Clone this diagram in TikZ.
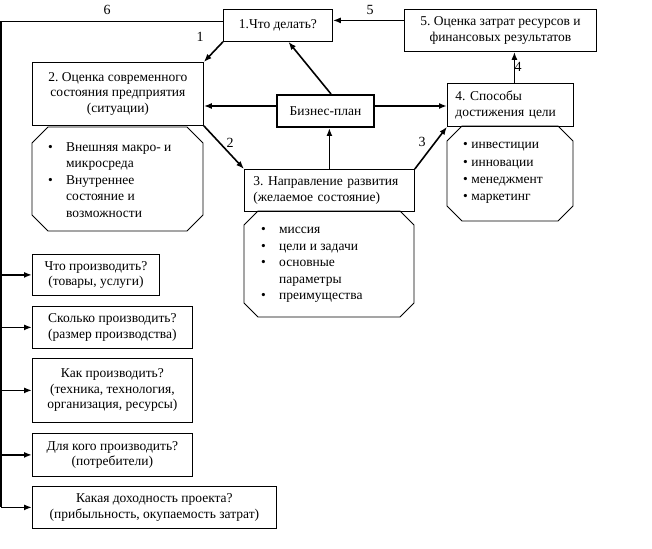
\documentclass[tikz,border=0pt]{standalone}
\usepackage{fontspec}
\setmainfont{Liberation Serif}
\usetikzlibrary{arrows.meta}
\newcommand\dfont{\fontsize{13.5}{15.5}\selectfont\frenchspacing}
\newcommand\ofont{\fontsize{13.5}{16.5}\selectfont\frenchspacing}
\newcommand\bl[1]{\mbox{\makebox[18pt][l]{•}#1}}
\newcommand\cl[1]{\mbox{\hspace*{18pt}#1}}
\newcommand\octpath[5]{\draw[line width=0.8pt] (#1+#5,#2) -- (#3-#5,#2) -- (#3,#2+#5) -- (#3,#4-#5) -- (#3-#5,#4) -- (#1+#5,#4) -- (#1,#4-#5) -- (#1,#2+#5) -- cycle;}
\begin{document}
\begin{tikzpicture}[x=1pt,y=-1pt,
  box/.style={draw,line width=0.8pt,inner sep=0pt,anchor=north west,font=\dfont,align=center},
  otext/.style={inner sep=0pt,anchor=west,font=\ofont,align=left},
  arr/.style={line width=1.6pt,-{Latex[length=8pt,width=6pt]}},
  lbl/.style={font=\fontsize{14}{16}\selectfont,inner sep=0pt}]
\useasboundingbox (0,0) rectangle (652,548);
% boxes
\node[box,minimum width=109pt,minimum height=32pt] (b1) at (223,9) {1.Что делать?};
\node[box,minimum width=192pt,minimum height=42pt] (b5) at (404,9) {5. Оценка затрат ресурсов и\\финансовых результатов};
\node[box,minimum width=171pt,minimum height=63pt] (b2) at (32,62) {2. Оценка современного\\состояния предприятия\\(ситуации)};
\node[box,line width=2pt,minimum width=97pt,minimum height=32pt] (biz) at (276,94) {Бизнес-план};
\node[box,minimum width=126pt,minimum height=43pt,align=left,text width=110pt,inner xsep=8pt] (b4) at (447,83) {4. Способы\\достижения цели};
\node[box,minimum width=170pt,minimum height=42pt,align=left,text width=152pt,inner xsep=9pt] (b3) at (244,169) {3. Направление развития\\(желаемое состояние)};
% octagons
\octpath{32}{127}{203}{231}{16}
\octpath{244}{211}{414}{317}{14}
\octpath{447}{126}{573}{221}{15}
\node[otext] (o2) at (48,180) {\bl{Внешняя макро- и}\\\cl{микросреда}\\\bl{Внутреннее}\\\cl{состояние и}\\\cl{возможности}};
\node[otext] (o3) at (261,265) {\bl{миссия}\\\bl{цели и задачи}\\\bl{основные}\\\cl{параметры}\\\bl{преимущества}};
\node[otext,font=\fontsize{13.5}{17.3}\selectfont] (o4) at (463,173) {• инвестиции\\• инновации\\• менеджмент\\• маркетинг};
% left boxes
\node[box,minimum width=127pt,minimum height=41pt] (q1) at (32,254) {Что производить?\\(товары, услуги)};
\node[box,minimum width=160pt,minimum height=42pt] (q2) at (32,306) {Сколько производить?\\(размер производства)};
\node[box,minimum width=160pt,minimum height=64pt] (q3) at (32,358) {Как производить?\\(техника, технология,\\организация, ресурсы)};
\node[box,minimum width=160pt,minimum height=43pt] (q4) at (32,433) {Для кого производить?\\(потребители)};
\node[box,minimum width=244pt,minimum height=42pt] (q5) at (32,486) {Какая доходность проекта?\\(прибыльность, окупаемость затрат)};
% arrows
\draw[arr] ([yshift=10pt]b5.west) -- ([yshift=10pt]b5.west -| b1.east);
\draw[arr] (b1.south west) -- (b2.north east);
\draw[arr] ([xshift=5.5pt]biz.north) -- ([xshift=10.5pt]b1.south);
\draw[arr] ([yshift=5pt]biz.west) -- ([yshift=5pt]biz.west -| b2.east);
\draw[arr] ([yshift=5pt]biz.east) -- ([yshift=5pt]biz.east -| b4.west);
\draw[arr] (b2.south east) -- (b3.north west);
\draw[arr] (b3.north) -- (b3.north |- biz.south);
\draw[arr] (b3.north east) -- (b4.south west);
\draw[arr] ([xshift=4pt]b4.north) -- ([xshift=4pt]b4.north |- b5.south);
% line 6
\coordinate (c6) at (1,507);
\draw[line width=1.2pt] ([yshift=4pt]b1.west) -| (c6);
\foreach \q in {q1,q2,q3,q4,q5}{\draw[arr] (\q.west -| c6) -- (\q.west);}
% labels
\node[lbl] (l6) at (107,10) {6};
\node[lbl] (l5) at (370,10) {5};
\node[lbl] (l1) at (200,37) {1};
\node[lbl] (l2) at (230,143) {2};
\node[lbl] (l3) at (422,142) {3};
\node[lbl] (l4) at (518,67) {4};
\end{tikzpicture}
\end{document}
